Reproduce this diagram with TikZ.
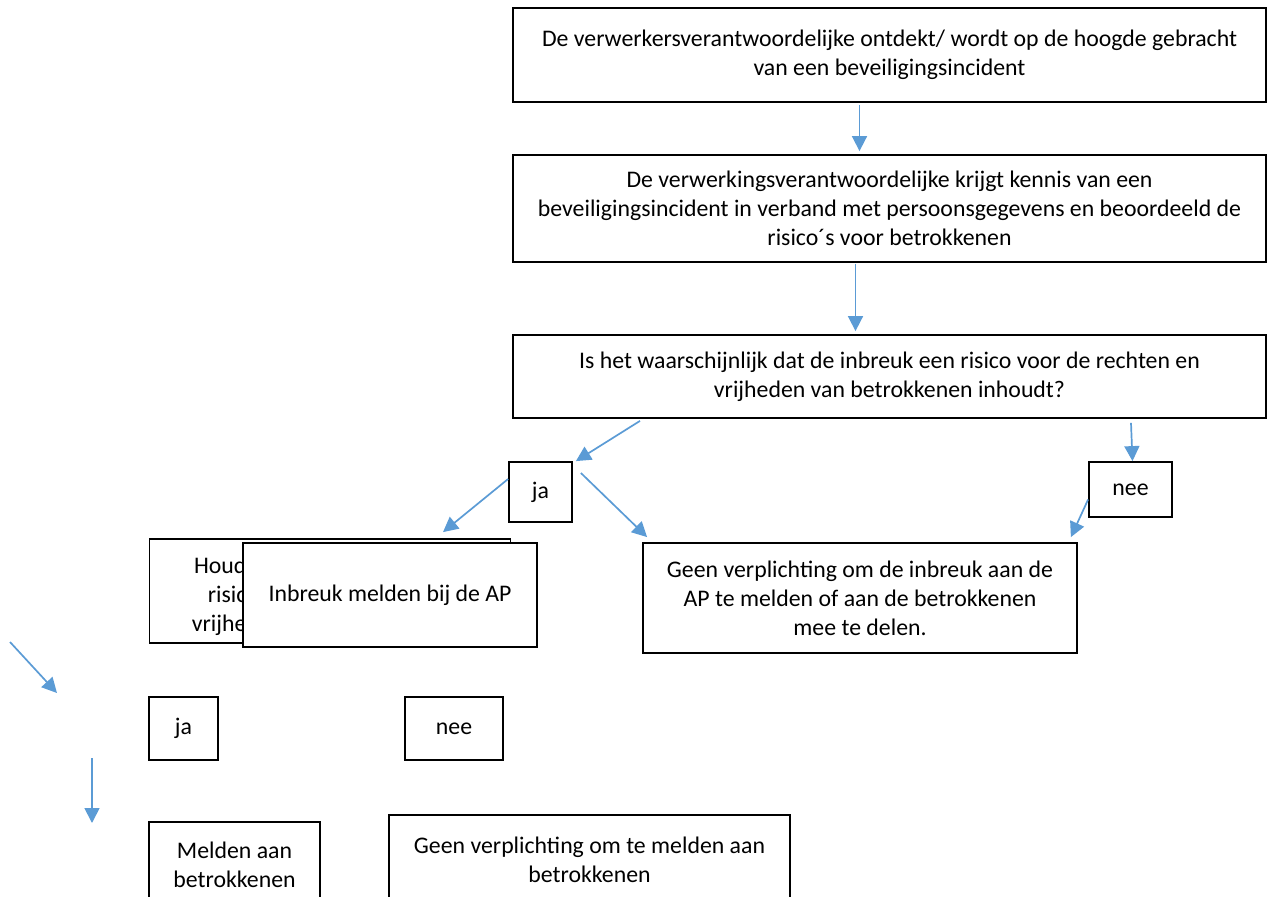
\documentclass[tikz,border=0pt]{standalone}
\usepackage{fontspec}
\setmainfont{Carlito}
\usepackage{xcolor}
\usetikzlibrary{arrows.meta,positioning}
\definecolor{flowblue}{HTML}{5B9BD5}

\begin{document}
\begin{tikzpicture}[
  x=1pt, y=-1pt,
  font={\fontsize{23.8}{29}\selectfont},
  box/.style={draw, line width=1.8pt, fill=white, align=center, inner sep=0pt},
  arrow/.style={-{Triangle[length=15pt,width=15pt]}, color=flowblue, line width=1.7pt}
]
  \useasboundingbox (0,0) rectangle (1267,897);

  % Main vertical flow
  \node[box, minimum width=753pt, minimum height=94pt] (detect) at (889.5,55) {De verwerkersverantwoordelijke ontdekt/ wordt op de hoogde gebracht\\van een beveiligingsincident};
  \node[box, minimum width=753pt, minimum height=107pt] (aware) at (889.5,208.5) {De verwerkingsverantwoordelijke krijgt kennis van een\\beveiligingsincident in verband met persoonsgegevens en beoordeeld de\\risico´s voor betrokkenen};
  \node[box, minimum width=753pt, minimum height=83pt] (risk) at (889.5,376.5) {Is het waarschijnlijk dat de inbreuk een risico voor de rechten en\\vrijheden van betrokkenen inhoudt?};

  % Answers to the first question
  \node[box, minimum width=63pt, minimum height=60pt] (ja1) at (540.5,492) {ja};
  \node[box, minimum width=83pt, minimum height=55pt] (nee1) at (1130.5,489.5) {nee};

  % Overlapping boxes (back one partly hidden)
  \node[box, minimum width=361pt, minimum height=104pt] (highrisk) at (330,591) {};
  \node[align=right, anchor=east] (highrisktext) at (250,596) {Houd\\risic\\vrijhe};
  \node[box, minimum width=294pt, minimum height=104pt] (report) at (390,595) {Inbreuk melden bij de AP};
  \node[box, minimum width=434pt, minimum height=110pt] (nonotify) at (860,598) {Geen verplichting om de inbreuk aan de\\AP te melden of aan de betrokkenen\\mee te delen.};

  % Second row of answers and outcomes
  \node[box, minimum width=69pt, minimum height=63pt] (ja2) at (183.5,728.5) {ja};
  \node[box, minimum width=98pt, minimum height=63pt] (nee2) at (454,728.5) {nee};
  \node[box, minimum width=171pt, minimum height=86pt] (inform) at (234.5,865) {Melden aan\\betrokkenen};
  \node[box, minimum width=401pt, minimum height=90pt] (noinform) at (589.5,860) {Geen verplichting om te melden aan\\betrokkenen};

  % Loose arrows on the left
  \coordinate (loose1) at (10,642);
  \coordinate (loose1end) at (57,693);
  \coordinate (loose2) at (92,758);
  \coordinate (loose2end) at (92,823);

  \draw[arrow] ([xshift=-30pt,yshift=-2pt]detect.south) -- ([xshift=-30pt,yshift=3pt]aware.north);
  \draw[arrow] ([xshift=-34pt,yshift=-1pt]aware.south) -- ([xshift=-34pt,yshift=3pt]risk.north);
  \draw[arrow] ([xshift=-249.5pt,yshift=-2pt]risk.south) -- ([xshift=3pt]ja1.north east);
  \draw[arrow] ([xshift=241.5pt,yshift=-4pt]risk.south) -- ([xshift=2pt]nee1.north);
  \draw[arrow] ([yshift=13pt]ja1.west) -- ([xshift=113pt,yshift=6pt]highrisk.north);
  \draw[arrow] ([xshift=8pt,yshift=19pt]ja1.east) -- ([xshift=5pt,yshift=5pt]nonotify.north west);
  \draw[arrow] ([yshift=-10pt]nee1.west) -- ([xshift=-7pt,yshift=5pt]nonotify.north east);
  \draw[arrow] (loose1) -- (loose1end);
  \draw[arrow] (loose2) -- (loose2end);
\end{tikzpicture}
\end{document}
